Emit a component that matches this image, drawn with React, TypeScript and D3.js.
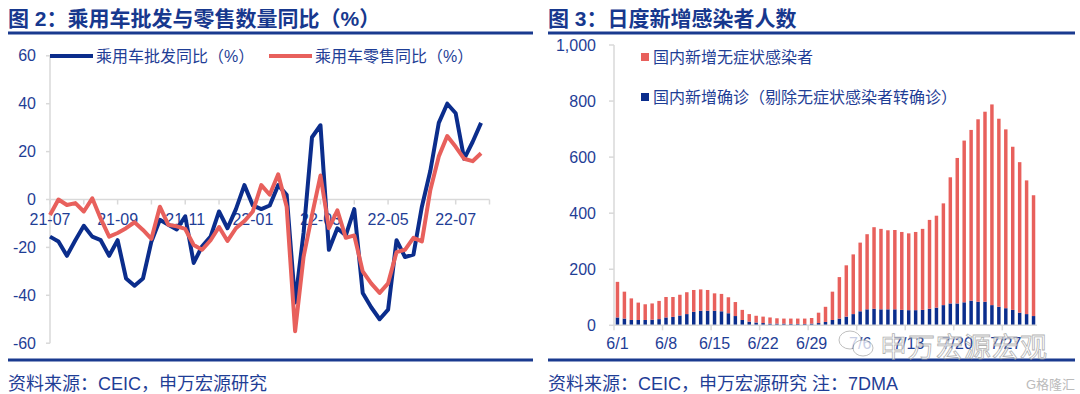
import React, { useEffect, useRef } from "react";
import * as d3 from "d3";

// ---- left chart: weekly YoY (%), 4 points per month, 21-07 .. 22-07
const monthTicks = [
  "21-07", "21-08", "21-09", "21-10", "21-11", "21-12", "22-01",
  "22-02", "22-03", "22-04", "22-05", "22-06", "22-07", "22-08",
];
const pointsPerMonth = 4;
const wholesaleYoY = [
  -15.5, -17.5, -23.5, -17, -11, -15.5, -17, -23.5, -17, -33, -36, -33, -17.5,
  -8.5, -10.5, -12.5, -7, -26.5, -19.5, -15.5, -5, -12, -4, 6, -2.5, -4, -2.5,
  6, 2, -43, -14, 26, 31, -21, -12, -15, -4, -39, -45, -50, -46, -17, -24, -23,
  -3, 12, 32, 40, 36, 17, 24, 32,
];
const retailYoY = [
  -6.5, 0, -2.3, -1.5, -5, 0.5, -8, -15.5, -14, -12, -9.5, -12.7, -16.4, -3,
  -10.6, -11.2, -12.3, -19, -21, -17, -11.5, -17.3, -12, -9, -5, 6, 2, 10.5, -3,
  -55, -24, -6.5, 10, -12, -4.5, -16, -15, -30, -35, -39, -35, -22, -21, -16,
  -17.5, 4, 18, 26.5, 22, 17, 16, 19.3,
];
const leftYTicks = [-60, -40, -20, 0, 20, 40, 60];

// ---- right chart: daily new cases, 7DMA, 6/1 .. 7/31
const days: string[] = [];
for (let d = 1; d <= 30; d++) days.push(`6/${d}`);
for (let d = 1; d <= 31; d++) days.push(`7/${d}`);
const confirmed = [
  28, 24, 19, 19, 19, 20, 22, 28, 30, 35, 40, 48, 52, 52, 52, 50, 43, 33, 19,
  13, 10, 8, 6, 6, 6, 5, 5, 5, 6, 8, 12, 19, 24, 31, 40, 50, 57, 59, 57, 57, 57,
  55, 54, 54, 55, 59, 63, 72, 78, 78, 82, 88, 84, 84, 72, 66, 61, 55, 45, 40, 33,
];
const asymptomatic = [
  127, 96, 77, 62, 56, 58, 65, 73, 71, 74, 78, 78, 76, 74, 62, 62, 57, 50, 36,
  27, 24, 23, 22, 19, 18, 19, 19, 19, 20, 37, 54, 101, 148, 183, 213, 245, 268,
  291, 287, 282, 283, 278, 274, 279, 289, 317, 328, 363, 450, 519, 577, 609, 651,
  678, 716, 671, 638, 582, 537, 477, 431,
];
const rightYTicks = [0, 200, 400, 600, 800, 1000];

const W = 1080;
const H = 394;
const FONT = "'Liberation Sans', Arial, 'Noto Sans CJK SC', sans-serif";
const TEXT = "#1F3E96";
const NAVY = "#0B2D8C";
const RED = "#E8605C";
const AXIS = "#D9D9D9";

type Sel = d3.Selection<SVGSVGElement, unknown, null, undefined>;

const drawFrame = (svg: Sel, x0: number, x1: number, title: string, source: string) => {
  svg.append("text")
    .attr("x", x0)
    .attr("y", 26)
    .attr("font-size", 21)
    .attr("font-weight", "bold")
    .attr("fill", "#17388E")
    .text(title);
  svg.append("line")
    .attr("x1", x0).attr("x2", x1)
    .attr("y1", 33).attr("y2", 33)
    .attr("stroke", "#1A3A8F").attr("stroke-width", 3);
  svg.append("line")
    .attr("x1", x0).attr("x2", x1)
    .attr("y1", 360).attr("y2", 360)
    .attr("stroke", "#1A3A8F").attr("stroke-width", 3);
  svg.append("text")
    .attr("x", x0)
    .attr("y", 390)
    .attr("font-size", 18)
    .attr("fill", TEXT)
    .text(source);
};

const drawLines = (svg: Sel) => {
  const x = d3.scaleLinear().domain([0, (monthTicks.length - 1) * pointsPerMonth]).range([50, 489.5]);
  const y = d3.scaleLinear().domain([-60, 60]).range([343.2, 55.8]);
  const g = svg.append("g");

  // y axis
  g.append("line").attr("x1", 50).attr("x2", 50).attr("y1", y(60)).attr("y2", y(-60))
    .attr("stroke", AXIS).attr("stroke-width", 1.5);
  leftYTicks.forEach((t) => {
    g.append("line").attr("x1", 46).attr("x2", 50).attr("y1", y(t)).attr("y2", y(t))
      .attr("stroke", AXIS).attr("stroke-width", 1.5);
    g.append("text").attr("x", 36).attr("y", y(t)).attr("dy", "0.35em")
      .attr("text-anchor", "end").attr("font-size", 16).attr("fill", TEXT).text(t);
  });

  // x axis at zero
  g.append("line").attr("x1", x(0)).attr("x2", x((monthTicks.length - 1) * pointsPerMonth))
    .attr("y1", y(0)).attr("y2", y(0)).attr("stroke", AXIS).attr("stroke-width", 1.5);
  monthTicks.forEach((m, i) => {
    const xi = x(i * pointsPerMonth);
    g.append("line").attr("x1", xi).attr("x2", xi).attr("y1", y(0)).attr("y2", y(0) + 5)
      .attr("stroke", AXIS).attr("stroke-width", 1.5);
    if (i % 2 === 0 && i < monthTicks.length - 1) {
      g.append("text").attr("x", xi).attr("y", y(0) + 25)
        .attr("text-anchor", "middle").attr("font-size", 16).attr("fill", TEXT).text(m);
    }
  });

  const line = d3.line<number>().x((_, i) => x(i)).y((d) => y(d));
  g.append("path").datum(wholesaleYoY).attr("d", line).attr("fill", "none")
    .attr("stroke", NAVY).attr("stroke-width", 4).attr("stroke-linejoin", "round");
  g.append("path").datum(retailYoY).attr("d", line).attr("fill", "none")
    .attr("stroke", RED).attr("stroke-width", 4).attr("stroke-linejoin", "round");

  // legend
  const legend = [
    { label: "乘用车批发同比（%）", color: NAVY, x: 50 },
    { label: "乘用车零售同比（%）", color: RED, x: 269 },
  ];
  legend.forEach((l) => {
    g.append("line").attr("x1", l.x).attr("x2", l.x + 43).attr("y1", 56).attr("y2", 56)
      .attr("stroke", l.color).attr("stroke-width", 4);
    g.append("text").attr("x", l.x + 46).attr("y", 56).attr("dy", "0.35em")
      .attr("font-size", 16).attr("fill", TEXT).text(l.label);
  });
};

const drawBars = (svg: Sel) => {
  const rows = days.map((d, i) => ({ day: d, confirmed: confirmed[i], asymptomatic: asymptomatic[i] }));
  const x = d3.scaleBand().domain(days).range([614, 1037]).paddingInner(0.5).paddingOuter(0.25);
  const y = d3.scaleLinear().domain([0, 1000]).range([325.3, 45]);
  const g = svg.append("g");

  g.append("line").attr("x1", 614).attr("x2", 614).attr("y1", y(1000)).attr("y2", y(0))
    .attr("stroke", AXIS).attr("stroke-width", 1.5);
  rightYTicks.forEach((t) => {
    g.append("line").attr("x1", 609).attr("x2", 614).attr("y1", y(t)).attr("y2", y(t))
      .attr("stroke", AXIS).attr("stroke-width", 1.5);
    g.append("text").attr("x", 596).attr("y", y(t)).attr("dy", "0.35em")
      .attr("text-anchor", "end").attr("font-size", 16).attr("fill", TEXT)
      .text(d3.format(",")(t));
  });

  const stack = d3.stack<any>().keys(["confirmed", "asymptomatic"])(rows);
  const colors: Record<string, string> = { confirmed: NAVY, asymptomatic: RED };
  g.selectAll("g.series")
    .data(stack)
    .enter()
    .append("g")
    .attr("fill", (d) => colors[d.key])
    .selectAll("rect")
    .data((d) => d)
    .enter()
    .append("rect")
    .attr("x", (d) => x(d.data.day)!)
    .attr("width", x.bandwidth())
    .attr("y", (d) => y(d[1]))
    .attr("height", (d) => y(d[0]) - y(d[1]));

  g.append("line").attr("x1", 614).attr("x2", 1037).attr("y1", y(0)).attr("y2", y(0))
    .attr("stroke", AXIS).attr("stroke-width", 1.5);
  days.forEach((d, i) => {
    if (i % 7 !== 0) return;
    const xb = 614 + x.step() * i;
    g.append("line").attr("x1", xb).attr("x2", xb).attr("y1", y(0)).attr("y2", y(0) + 5)
      .attr("stroke", AXIS).attr("stroke-width", 1.5);
    g.append("text").attr("x", x(d)! + x.bandwidth() / 2).attr("y", 349)
      .attr("text-anchor", "middle").attr("font-size", 16).attr("fill", TEXT).text(d);
  });

  const legend = [
    { label: "国内新增无症状感染者", color: RED, y: 57 },
    { label: "国内新增确诊（剔除无症状感染者转确诊）", color: NAVY, y: 97 },
  ];
  legend.forEach((l) => {
    g.append("rect").attr("x", 641).attr("y", l.y - 4).attr("width", 8).attr("height", 8).attr("fill", l.color);
    g.append("text").attr("x", 653).attr("y", l.y).attr("dy", "0.35em")
      .attr("font-size", 16).attr("fill", TEXT).text(l.label);
  });
};

const drawWatermark = (svg: Sel) => {
  const g = svg.append("g").attr("opacity", 0.75);
  g.append("ellipse").attr("cx", 850).attr("cy", 340).attr("rx", 11).attr("ry", 9)
    .attr("fill", "#fff").attr("stroke", "#aaa").attr("stroke-width", 1);
  g.append("ellipse").attr("cx", 863).attr("cy", 348).attr("rx", 10).attr("ry", 8)
    .attr("fill", "#fff").attr("stroke", "#aaa").attr("stroke-width", 1);
  g.append("text").attr("x", 880).attr("y", 357).attr("font-size", 27)
    .attr("fill", "#fff").attr("stroke", "#999").attr("stroke-width", 0.8)
    .attr("letter-spacing", 1).text("申万宏源宏观");
  svg.append("text").attr("x", 1026).attr("y", 389).attr("font-size", 13)
    .attr("fill", "#bbb").text("G格隆汇");
};

export default function App() {
  const svgRef = useRef<SVGSVGElement>(null);

  useEffect(() => {
    if (!svgRef.current) return;
    const svg = d3.select(svgRef.current);
    svg.selectAll("*").remove();
    svg.append("rect").attr("width", W).attr("height", H).attr("fill", "#fff");
    drawFrame(svg, 8, 533, "图 2：乘用车批发与零售数量同比（%）", "资料来源：CEIC，申万宏源研究");
    drawFrame(svg, 548, 1075, "图 3：日度新增感染者人数", "资料来源：CEIC，申万宏源研究 注：7DMA");
    drawLines(svg);
    drawBars(svg);
    drawWatermark(svg);
  }, []);

  return (
    <div style={{ position: "absolute", left: 0, top: 0 }}>
      <svg ref={svgRef} width={W} height={H} fontFamily={FONT} style={{ display: "block" }} />
    </div>
  );
}
